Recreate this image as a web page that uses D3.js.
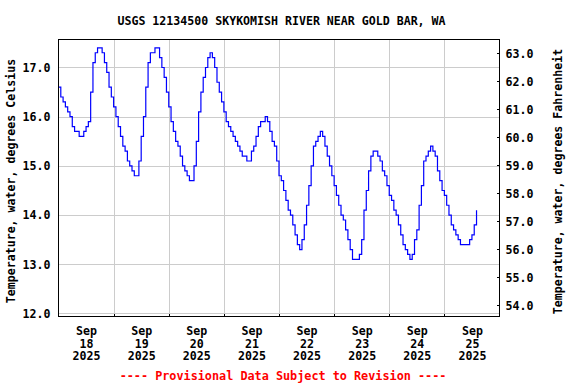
<!DOCTYPE html>
<html lang="en">
<head>
  <meta charset="UTF-8"/>
  <title>USGS 12134500 Skykomish River near Gold Bar, WA</title>
  <script src="https://d3js.org/d3.v7.min.js"></script>
  <style>
    body { margin: 0; background: #fff; }
    svg { display: block; }
    text {
      font-family: 'DejaVu Sans Mono', monospace;
      font-weight: bold;
      font-size: 11.6px;
      fill: #000;
    }
    .grid line { stroke: #cccccc; stroke-width: 1; shape-rendering: crispEdges; }
    .frame { fill: none; stroke: #000; stroke-width: 1; shape-rendering: crispEdges; }
    .axis path { display: none; }
    .axis line { stroke: #000; shape-rendering: crispEdges; }
    .series { fill: none; stroke: #0000ff; stroke-width: 1.2; }
    text.notice { fill: #ff0000; font-size: 11.8px; }
  </style>
</head>
<body>
<svg width="576" height="384"></svg>
<script>
// hourly water temperature, degrees Celsius, starting 00:00 of each day
const sep18 = [16.6, 16.4, 16.3, 16.2, 16.1, 16.0, 15.8, 15.7, 15.7, 15.6, 15.6, 15.7,
               15.8, 15.9, 16.5, 17.1, 17.3, 17.4, 17.4, 17.3, 17.1, 16.9, 16.6, 16.4];
const sep19 = [16.2, 16.0, 15.8, 15.6, 15.4, 15.3, 15.1, 15.0, 14.9, 14.8, 14.8, 15.1,
               15.6, 16.0, 16.6, 17.1, 17.3, 17.3, 17.4, 17.4, 17.2, 17.0, 16.8, 16.5];
const sep20 = [16.2, 15.9, 15.7, 15.5, 15.4, 15.2, 15.0, 14.9, 14.8, 14.7, 14.7, 15.0,
               15.5, 16.1, 16.5, 16.8, 17.0, 17.2, 17.3, 17.2, 17.0, 16.7, 16.5, 16.3];
const sep21 = [16.1, 15.9, 15.8, 15.7, 15.6, 15.5, 15.4, 15.3, 15.2, 15.2, 15.1, 15.1,
               15.3, 15.4, 15.6, 15.8, 15.9, 15.9, 16.0, 15.9, 15.7, 15.5, 15.4, 15.1];
const sep22 = [14.8, 14.7, 14.5, 14.3, 14.1, 14.0, 13.8, 13.6, 13.4, 13.3, 13.5, 13.8,
               14.2, 14.6, 15.0, 15.4, 15.5, 15.6, 15.7, 15.6, 15.4, 15.2, 15.0, 14.8];
const sep23 = [14.6, 14.4, 14.2, 14.0, 13.9, 13.7, 13.5, 13.3, 13.1, 13.1, 13.1, 13.2,
               13.5, 14.1, 14.5, 14.9, 15.2, 15.3, 15.3, 15.2, 15.1, 14.9, 14.8, 14.6];
const sep24 = [14.4, 14.3, 14.1, 14.0, 13.8, 13.6, 13.4, 13.3, 13.2, 13.1, 13.2, 13.5,
               13.7, 14.2, 14.6, 15.1, 15.2, 15.3, 15.4, 15.3, 15.2, 14.9, 14.7, 14.5];
const sep25 = [14.4, 14.2, 14.0, 13.8, 13.7, 13.6, 13.5, 13.4, 13.4, 13.4, 13.4, 13.5,
               13.6, 13.8, 14.1];

const dayLabels = ['18', '19', '20', '21', '22', '23', '24', '25'];
const monthLabel = 'Sep';
const yearLabel = '2025';
const celsiusTicks = [12, 13, 14, 15, 16, 17];
const fahrenheitTicks = [54, 55, 56, 57, 58, 59, 60, 61, 62, 63];

const start = Date.UTC(2025, 8, 18);
const hour = 3600 * 1000;
const values = [].concat(sep18, sep19, sep20, sep21, sep22, sep23, sep24, sep25);
const data = values.map((v, i) => ({ t: new Date(start + i * hour), v: v }));

const svg = d3.select('svg');
const plotL = 58.5, plotR = 499.5, plotT = 39.5, plotB = 316.5;

const x = d3.scaleUtc()
  .domain([new Date(start), new Date(start + 8 * 24 * hour)])
  .range([plotL, plotR]);

const yC = d3.scaleLinear()
  .domain([11.939, 17.569])
  .range([plotB, plotT]);

const yF = d3.scaleLinear()
  .domain([53.607, 63.5])
  .range([plotB, plotT]);

// grid
const days = d3.utcDay.range(new Date(start + 24 * hour), new Date(start + 8 * 24 * hour));
const grid = svg.append('g').attr('class', 'grid');
grid.selectAll('.v')
  .data(days)
  .enter().append('line')
  .attr('x1', d => Math.round(x(d)) + 0.5)
  .attr('x2', d => Math.round(x(d)) + 0.5)
  .attr('y1', plotT).attr('y2', plotB);
grid.selectAll('.h')
  .data(celsiusTicks)
  .enter().append('line')
  .attr('x1', plotL).attr('x2', plotR)
  .attr('y1', d => Math.round(yC(d)) + 0.5)
  .attr('y2', d => Math.round(yC(d)) + 0.5);

// data line
svg.append('path')
  .datum(data)
  .attr('class', 'series')
  .attr('d', d3.line()
    .x(d => x(d.t))
    .y(d => yC(d.v))
    .curve(d3.curveStepAfter));

// frame
svg.append('rect')
  .attr('class', 'frame')
  .attr('x', plotL).attr('y', plotT)
  .attr('width', plotR - plotL).attr('height', plotB - plotT);

// left axis (Celsius)
svg.append('g')
  .attr('class', 'axis')
  .attr('transform', `translate(${plotL},0)`)
  .call(d3.axisLeft(yC).tickValues(celsiusTicks).tickSize(0).tickPadding(8)
    .tickFormat(d3.format('.1f')));

// right axis (Fahrenheit)
svg.append('g')
  .attr('class', 'axis')
  .attr('transform', `translate(${plotR},0)`)
  .call(d3.axisRight(yF).tickValues(fahrenheitTicks).tickSize(-3).tickPadding(6)
    .tickFormat(d3.format('.1f')));

// bottom axis, labels at noon
const noons = dayLabels.map((d, i) => new Date(start + (i * 24 + 12) * hour));
const xAxis = svg.append('g')
  .attr('class', 'axis')
  .attr('transform', `translate(0,${plotB})`)
  .call(d3.axisBottom(x).tickValues(noons).tickSize(0).tickFormat(''));

xAxis.selectAll('.tick text').remove();
xAxis.selectAll('.tick').append('text')
  .attr('text-anchor', 'middle')
  .selectAll('tspan')
  .data((d, i) => [monthLabel, dayLabels[i], yearLabel])
  .enter().append('tspan')
  .attr('x', 0)
  .attr('y', (d, i) => 18.5 + i * 12.5)
  .text(d => d);

// small ticks at midnight along bottom
svg.append('g')
  .selectAll('line')
  .data(days)
  .enter().append('line')
  .attr('x1', d => Math.round(x(d)) + 0.5)
  .attr('x2', d => Math.round(x(d)) + 0.5)
  .attr('y1', plotB - 3).attr('y2', plotB)
  .attr('stroke', '#000')
  .attr('shape-rendering', 'crispEdges');

// titles
svg.append('text')
  .attr('x', 281.5).attr('y', 25)
  .attr('text-anchor', 'middle')
  .text('USGS 12134500 SKYKOMISH RIVER NEAR GOLD BAR, WA');

svg.append('text')
  .attr('transform', 'translate(15,181) rotate(-90)')
  .attr('text-anchor', 'middle')
  .text('Temperature, water, degrees Celsius');

svg.append('text')
  .attr('transform', 'translate(562,181.5) rotate(-90)')
  .attr('text-anchor', 'middle')
  .text('Temperature, water, degrees Fahrenheit');

svg.append('text')
  .attr('class', 'notice')
  .attr('x', 283).attr('y', 380)
  .attr('text-anchor', 'middle')
  .text('---- Provisional Data Subject to Revision ----');
</script>
</body>
</html>
